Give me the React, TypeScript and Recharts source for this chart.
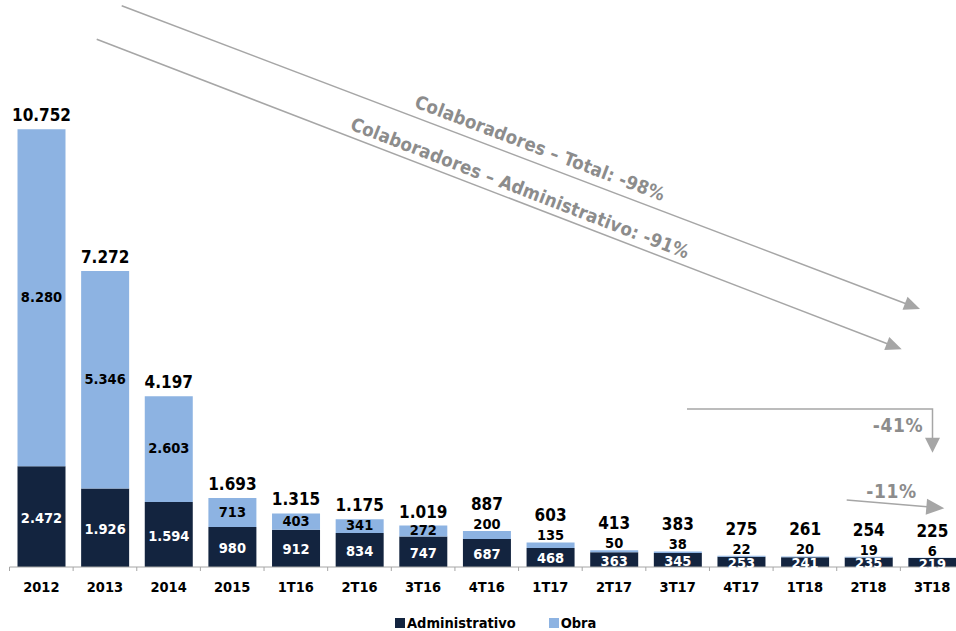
import { BarChart, Bar, XAxis, YAxis, LabelList, Legend } from 'recharts'

const categorias = ['2012', '2013', '2014', '2015', '1T16', '2T16', '3T16', '4T16', '1T17', '2T17', '3T17', '4T17', '1T18', '2T18', '3T18']
const administrativo = [2472, 1926, 1594, 980, 912, 834, 747, 687, 468, 363, 345, 253, 241, 235, 219]
const obra = [8280, 5346, 2603, 713, 403, 341, 272, 200, 135, 50, 38, 22, 20, 19, 6]
const totais = [10752, 7272, 4197, 1693, 1315, 1175, 1019, 887, 603, 413, 383, 275, 261, 254, 225]

const data = categorias.map((c, i) => ({
  periodo: c,
  administrativo: administrativo[i],
  obra: obra[i],
  total: totais[i],
}))

const FONT = "'DejaVu Sans Condensed', 'DejaVu Sans', Tahoma, sans-serif"
const AZUL_ESCURO = '#13243f'
const AZUL_CLARO = '#8db3e2'
const CINZA_TXT = '#8c8c8c'
const CINZA_LINHA = '#a6a6a6'

const fmt = (v: number) => String(v).replace(/\B(?=(\d{3})+(?!\d))/g, '.')

// segmento de obra pequeno demais -> rótulo vai pra cima da barra
const cabeDentro = (h: number) => h >= 10

const AdmLabel = (p: any) => {
  const { x, y, width, height, value } = p
  return (
    <text x={x + width / 2} y={y + height / 2 + 1} textAnchor="middle" dominantBaseline="central"
      fill="#fff" fontSize={14.5} fontWeight={700} fontFamily={FONT} style={{ fontStretch: 'condensed' }}>
      {fmt(value)}
    </text>
  )
}

const ObraLabel = (p: any) => {
  const { x, y, width, height, value } = p
  const cy = cabeDentro(height) ? y + height / 2 - 1 : y - 7
  return (
    <text x={x + width / 2} y={cy} textAnchor="middle" dominantBaseline="central"
      fill="#000" fontSize={14.5} fontWeight={700} fontFamily={FONT} style={{ fontStretch: 'condensed' }}>
      {fmt(value)}
    </text>
  )
}

const TotalLabel = (p: any) => {
  const { x, y, width, height, value } = p
  const cy = cabeDentro(height) ? y - 14 : y - 27
  return (
    <text x={x + width / 2} y={cy} textAnchor="middle" dominantBaseline="central"
      fill="#000" fontSize={17} fontWeight={700} fontFamily={FONT} style={{ fontStretch: 'condensed' }}>
      {fmt(value)}
    </text>
  )
}

const BAND = 954.5 / categorias.length

const Tick = (p: any) => {
  const { x, y, payload } = p
  return (
    <g>
      <line x1={x - BAND / 2} x2={x - BAND / 2} y1={y - 8} y2={y - 4} stroke={CINZA_LINHA} />
      <text x={x} y={y + 12} textAnchor="middle" dominantBaseline="central" fill="#000"
        fontSize={14.5} fontWeight={700} fontFamily={FONT} style={{ fontStretch: 'condensed' }}>
        {payload.value}
      </text>
    </g>
  )
}

const Legenda = (p: any) => (
  <div style={{ display: 'flex', alignItems: 'center', fontFamily: FONT, fontStretch: 'condensed', fontWeight: 700, fontSize: 14.5, color: '#000' }}>
    {(p.payload || []).map((it: any, i: number) => (
      <div key={i} style={{ display: 'flex', alignItems: 'center', marginRight: 33 }}>
        <span style={{ width: 10, height: 10, background: it.color, marginRight: 2, display: 'inline-block' }} />
        <span>{it.value}</span>
      </div>
    ))}
  </div>
)

function seta(x1: number, y1: number, x2: number, y2: number, len = 16, half = 7) {
  const a = Math.atan2(y2 - y1, x2 - x1)
  const bx = x2 - len * Math.cos(a)
  const by = y2 - len * Math.sin(a)
  const px = Math.sin(a) * half
  const py = -Math.cos(a) * half
  return `${x2},${y2} ${bx + px},${by + py} ${bx - px},${by - py}`
}

function Anotacoes() {
  const a1 = (Math.atan2(303, 798) * 180) / Math.PI
  const a2 = (Math.atan2(310, 805) * 180) / Math.PI
  const txt = { fill: CINZA_TXT, fontSize: 18.5, fontWeight: 700, fontFamily: FONT, letterSpacing: 0.2, style: { fontStretch: 'condensed' } } as any
  const pct = { ...txt, fontSize: 19, letterSpacing: 0.6 }
  return (
    <svg width={956} height={631} style={{ position: 'absolute', left: 0, top: 0, pointerEvents: 'none' }}>
      <line x1={121.7} y1={5.7} x2={906} y2={303.7} stroke={CINZA_LINHA} strokeWidth={1.5} />
      <polygon points={seta(121.7, 5.7, 920, 309)} fill={CINZA_LINHA} />
      <line x1={96.7} y1={39.3} x2={888} y2={344} stroke={CINZA_LINHA} strokeWidth={1.5} />
      <polygon points={seta(96.7, 39.3, 901.7, 349.3)} fill={CINZA_LINHA} />
      <text {...txt} x={540} y={148} textAnchor="middle" dominantBaseline="central" transform={`rotate(${a1} 540 148)`}>
        Colaboradores – Total: -98%
      </text>
      <text {...txt} x={520} y={188} textAnchor="middle" dominantBaseline="central" transform={`rotate(${a2} 520 188)`}>
        Colaboradores – Administrativo: -91%
      </text>
      <polyline points="687,409 932.5,409 932.5,438" fill="none" stroke={CINZA_LINHA} strokeWidth={1.5} />
      <polygon points={seta(932.5, 409, 932.5, 452.7, 15, 7.5)} fill={CINZA_LINHA} />
      <text {...pct} x={898} y={424.5} textAnchor="middle" dominantBaseline="central">-41%</text>
      <line x1={846.7} y1={500} x2={930} y2={507} stroke={CINZA_LINHA} strokeWidth={1.5} />
      <polygon points={seta(846.7, 500, 944.3, 508.3, 18, 8)} fill={CINZA_LINHA} />
      <text {...pct} x={891.5} y={491} textAnchor="middle" dominantBaseline="central">-11%</text>
    </svg>
  )
}

export default function App() {
  return (
    <div style={{ position: 'fixed', left: 0, top: 0, width: 956, height: 631, overflow: 'hidden', background: '#fff' }}>
      <BarChart width={964} height={631} data={data} barSize={48}
        margin={{ top: 78.5, right: 0, bottom: 34, left: 9.5 }}>
        <YAxis hide domain={[0, 12000]} />
        <XAxis dataKey="periodo" height={30} tickLine={false} tick={<Tick />}
          axisLine={{ stroke: CINZA_LINHA, strokeWidth: 1 }} interval={0} />
        <Legend verticalAlign="middle" layout="horizontal" content={<Legenda />}
          wrapperStyle={{ top: 615, left: 395, width: 260 }} />
        <Bar dataKey="administrativo" name="Administrativo" stackId="a" fill={AZUL_ESCURO} isAnimationActive={false}>
          <LabelList dataKey="administrativo" content={<AdmLabel />} />
        </Bar>
        <Bar dataKey="obra" name="Obra" stackId="a" fill={AZUL_CLARO} isAnimationActive={false}>
          <LabelList dataKey="obra" content={<ObraLabel />} />
          <LabelList dataKey="total" content={<TotalLabel />} />
        </Bar>
      </BarChart>
      <Anotacoes />
    </div>
  )
}
